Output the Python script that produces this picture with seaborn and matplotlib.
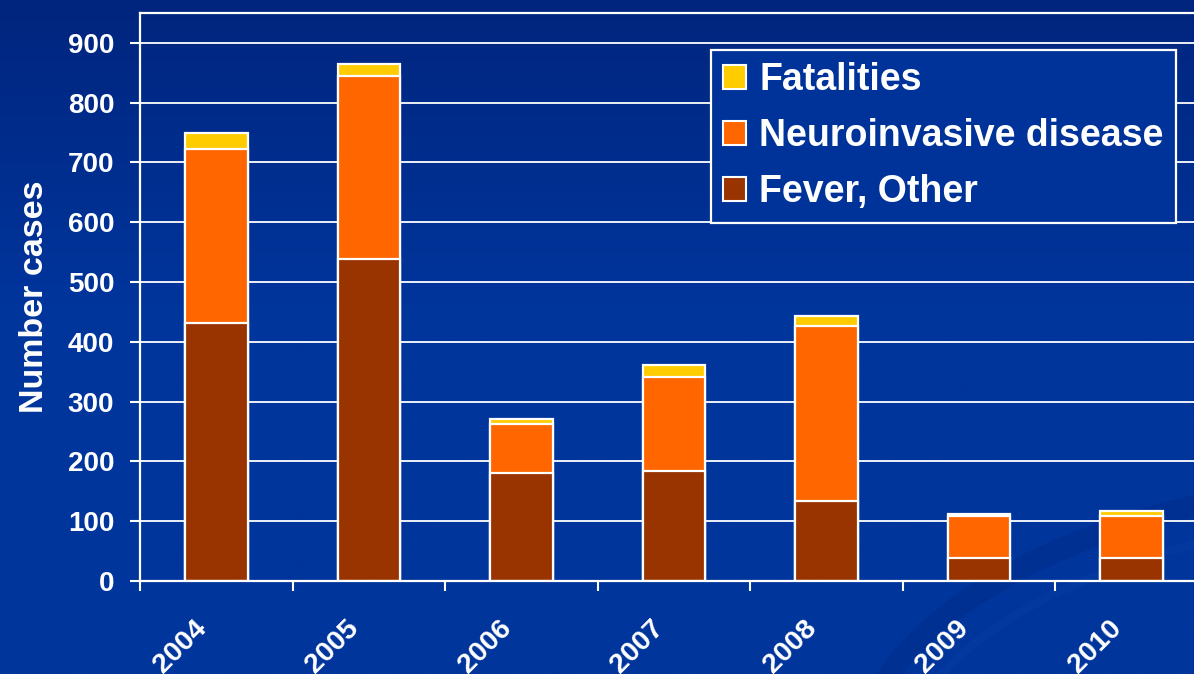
import numpy as np
import pandas as pd
import matplotlib
matplotlib.use("Agg")
import matplotlib.pyplot as plt
import matplotlib.transforms as mtransforms
from matplotlib.patches import Patch, Ellipse
import seaborn as sns

# ---- data ----
years = ["2004", "2005", "2006", "2007", "2008", "2009", "2010"]
fever_other = [431, 538, 180, 184, 133, 38, 38]
neuroinvasive = [291, 306, 83, 157, 294, 70, 71]
fatalities = [28, 20, 8, 20, 17, 4, 8]
series_names = ["Fatalities", "Neuroinvasive disease", "Fever, Other"]
y_ticks = [0, 100, 200, 300, 400, 500, 600, 700, 800, 900]

col_fever = "#993300"
col_neuro = "#FF6600"
col_fatal = "#FFCC00"
bg_col = "#003399"

sns.set_theme(style="white")
plt.rcParams["font.family"] = ["Liberation Sans", "DejaVu Sans"]
plt.rcParams["font.weight"] = "bold"

df = pd.DataFrame({
    "year": years,
    "fever": fever_other,
    "neuro": neuroinvasive,
    "fatal": fatalities,
})
df["lvl_fever"] = df["fever"]
df["lvl_neuro"] = df["fever"] + df["neuro"]
df["lvl_total"] = df["lvl_neuro"] + df["fatal"]

W, H = 1194, 674
fig = plt.figure(figsize=(W / 100, H / 100), dpi=100)

# background gradient + swoosh
bg = fig.add_axes([0, 0, 1, 1], zorder=-10)
grad = np.linspace(0, 1, 256)[:, None]
grad = np.clip(grad / 0.45, 0, 1)
top = np.array([0x00, 0x25, 0x7e]) / 255
bot = np.array([0x00, 0x35, 0x9c]) / 255
img = top[None, None, :] * (1 - grad[..., None]) + bot[None, None, :] * grad[..., None]
img = np.repeat(img, 2, axis=1)
bg.imshow(img, extent=[0, W, H, 0], aspect="auto")
bg.add_patch(Ellipse((1300, 705), 880, 430, angle=-8, fill=False,
                     edgecolor="#002a88", lw=16, alpha=0.45))
bg.add_patch(Ellipse((1310, 715), 820, 380, angle=-8, fill=False,
                     edgecolor="#0a3fa6", lw=6, alpha=0.35))
bg.set_xlim(0, W)
bg.set_ylim(H, 0)
bg.axis("off")

ax = fig.add_axes([140 / W, 1 - 581 / H, 1068 / W, (581 - 13) / H])
ax.set_facecolor("none")

edge_kw = dict(edgecolor="white", linewidth=1.6, width=0.41, errorbar=None,
               order=years, ax=ax)
sns.barplot(data=df, x="year", y="lvl_total", color=col_fatal, saturation=1, **edge_kw)
sns.barplot(data=df, x="year", y="lvl_neuro", color=col_neuro, saturation=1, **edge_kw)
sns.barplot(data=df, x="year", y="lvl_fever", color=col_fever, saturation=1, **edge_kw)

ax.set_ylim(0, 950)
ax.set_xlim(-0.5, len(years) - 0.5)
ax.set_yticks(y_ticks)
ax.set_yticklabels([str(v) for v in y_ticks])
ax.set_xticks(np.arange(-0.5, len(years), 1.0))
ax.set_xticklabels([])
ax.set_xticks(np.arange(len(years)), minor=True)
ax.set_xticklabels(years, minor=True, rotation=45, ha="right", va="center",
                   rotation_mode="anchor")
ax.set_xlabel("")
ax.set_ylabel("Number cases", fontsize=24.5, fontweight="bold", color="white",
              labelpad=13)

ax.yaxis.grid(True, color="white", lw=1.3)
ax.set_axisbelow(True)
for s in ["left", "bottom", "top"]:
    ax.spines[s].set_visible(True)
    ax.spines[s].set_color("white")
    ax.spines[s].set_linewidth(1.6)
ax.spines["right"].set_visible(False)

ax.tick_params(axis="y", which="major", direction="out", length=7.5, width=1.5,
               color="white", labelcolor="white", labelsize=20, pad=11, left=True)
ax.tick_params(axis="x", which="major", direction="out", length=7.5, width=1.5,
               color="white", bottom=True)
ax.tick_params(axis="x", which="minor", length=0, labelcolor="white",
               labelsize=20.5, pad=31, bottom=True)
shift = mtransforms.ScaledTranslation(-14 / 100, 0, fig.dpi_scale_trans)
for t in ax.get_xticklabels(minor=True):
    t.set_fontweight("bold")
    t.set_transform(t.get_transform() + shift)
for t in ax.get_yticklabels():
    t.set_fontweight("bold")

handles = [
    Patch(facecolor=col_fatal, edgecolor="white", lw=1.5, label=series_names[0]),
    Patch(facecolor=col_neuro, edgecolor="white", lw=1.5, label=series_names[1]),
    Patch(facecolor=col_fever, edgecolor="white", lw=1.5, label=series_names[2]),
]
leg = fig.legend(handles=handles, loc="upper right",
                 bbox_to_anchor=(1176 / W, 1 - 50 / H),
                 prop={"size": 27, "weight": "bold"},
                 handlelength=0.62, handleheight=0.62, handletextpad=0.35,
                 labelspacing=0.53, borderpad=0.33, borderaxespad=0,
                 fancybox=False, framealpha=1, facecolor=bg_col,
                 edgecolor="white")
leg.get_frame().set_linewidth(1.6)
for t in leg.get_texts():
    t.set_color("white")

fig.savefig("out.png", dpi=100)
